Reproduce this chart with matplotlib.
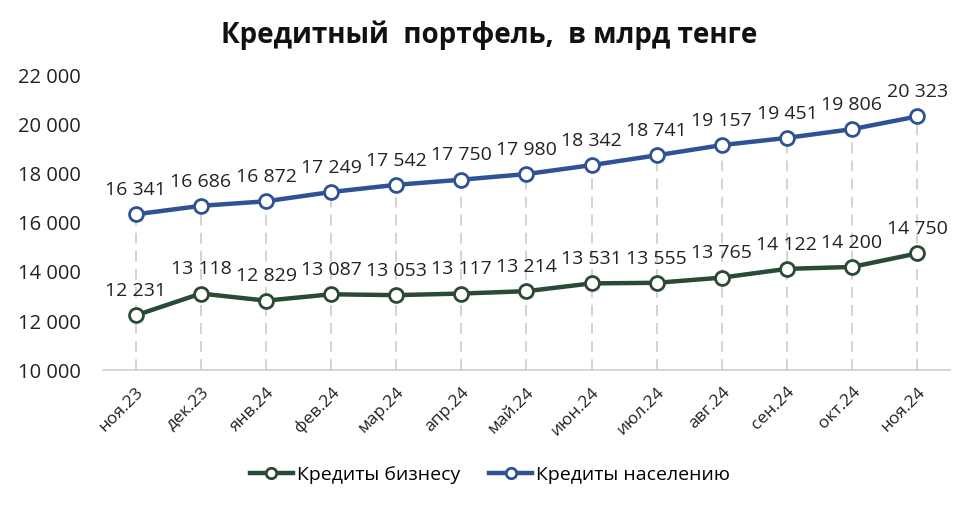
import matplotlib.pyplot as plt

months = ['ноя.23', 'дек.23', 'янв.24', 'фев.24', 'мар.24', 'апр.24', 'май.24',
          'июн.24', 'июл.24', 'авг.24', 'сен.24', 'окт.24', 'ноя.24']
business = [12231, 13118, 12829, 13087, 13053, 13117, 13214,
            13531, 13555, 13765, 14122, 14200, 14750]
population = [16341, 16686, 16872, 17249, 17542, 17750, 17980,
              18342, 18741, 19157, 19451, 19806, 20323]
yticks = [10000, 12000, 14000, 16000, 18000, 20000, 22000]

green = '#2b4a35'
blue = '#2f5294'


def fmt(v):
    return f'{v:,}'.replace(',', ' ')


plt.rcParams['font.family'] = ['Open Sans', 'DejaVu Sans']

fig = plt.figure(figsize=(9.74, 5.05), dpi=100)
ax = fig.add_axes([0.106, 0.267, 0.869, 0.584])

x = list(range(len(months)))

# dashed drop lines from top series to the axis
ax.vlines(x, 10000, population, colors='#d0d0d0', linestyles=(0, (6, 4)), lw=1.3, zorder=1)

ax.plot(x, business, color=green, lw=3.2, marker='o', ms=10, mfc='white',
        mec=green, mew=2, label='Кредиты бизнесу', zorder=3)
ax.plot(x, population, color=blue, lw=3.2, marker='o', ms=10, mfc='white',
        mec=blue, mew=2, label='Кредиты населению', zorder=3)

for xi, v in zip(x, business):
    ax.annotate(fmt(v), (xi, v), xytext=(0, 11), textcoords='offset points',
                ha='center', va='bottom', fontsize=14, color='#222222')
for xi, v in zip(x, population):
    ax.annotate(fmt(v), (xi, v), xytext=(0, 11), textcoords='offset points',
                ha='center', va='bottom', fontsize=14, color='#222222')

ax.set_xlim(-0.5, len(months) - 0.5)
ax.set_ylim(10000, 22000)
ax.set_yticks(yticks)
ax.set_yticklabels([fmt(t) for t in yticks], fontsize=14.5, color='#222222')
ax.set_xticks(x)
ax.set_xticklabels(months, rotation=45, ha='right', rotation_mode='anchor',
                   fontsize=12.5, color='#222222')
ax.tick_params(axis='y', length=0, pad=16)
ax.tick_params(axis='x', length=0, pad=10)

for s in ['top', 'right', 'left']:
    ax.spines[s].set_visible(False)
ax.spines['bottom'].set_color('#d0d0d0')
ax.spines['bottom'].set_linewidth(1.2)

fig.suptitle('Кредитный  портфель,  в млрд тенге', x=0.502, y=0.96,
             fontsize=20, fontweight='bold', color='#111111')

fig.legend(loc='center', bbox_to_anchor=(0.503, 0.06), ncol=2, frameon=False,
           fontsize=14, handlelength=2.2, columnspacing=1.5, handletextpad=0.2,
           markerscale=0.75)

fig.savefig('out.png', dpi=100, facecolor='white')
